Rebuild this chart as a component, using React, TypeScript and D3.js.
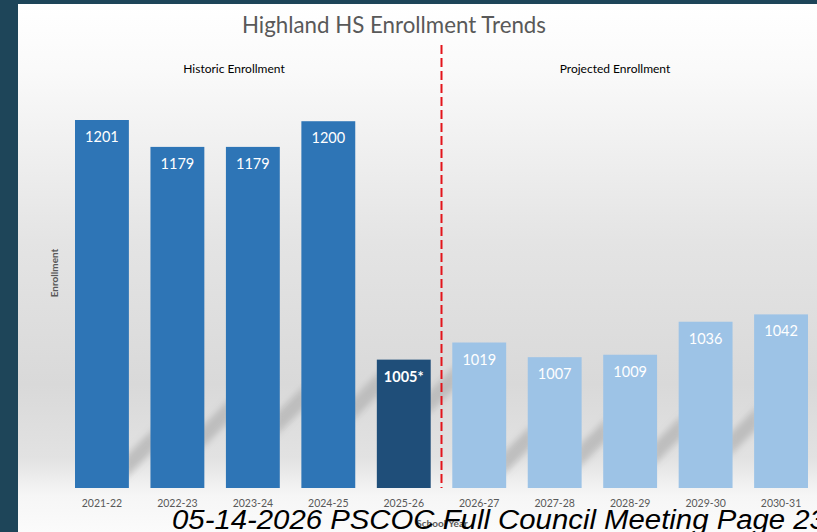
import React from "react";
import * as d3 from "d3";

const categories = ["2021-22","2022-23","2023-24","2024-25","2025-26","2026-27","2027-28","2028-29","2029-30","2030-31"];
const values = [1201, 1179, 1179, 1200, 1005, 1019, 1007, 1009, 1036, 1042];
const valueLabels = ["1201","1179","1179","1200","1005*","1019","1007","1009","1036","1042"];
const kinds = ["hist","hist","hist","hist","current","proj","proj","proj","proj","proj"];
// decorative floor-shadow centre heights to the right of each bar (background effect)
const shadowY = [468, 439, 425, 411, 405, 465, 458, 455, 446];

const W = 817, H = 532;
const colors: Record<string, string> = { hist: "#2E75B6", current: "#1F4E79", proj: "#9DC3E6" };
const FONT = "Lato, 'Open Sans', sans-serif";

export default function App() {
  const x = d3.scaleBand<string>().domain(categories).range([75, 808]).paddingInner(0.286).paddingOuter(0);
  const base = 488;
  const y = d3.scaleLinear().domain([900, 1201]).range([base, 120]);
  const bw = x.bandwidth();
  const divider = ((x("2025-26") as number) + bw + (x("2026-27") as number)) / 2;

  return (
    <svg width={W} height={H} style={{ position: "absolute", left: 0, top: 0, display: "block" }}>
      <defs>
        <linearGradient id="bg" x1="0" y1="0" x2="0" y2="1">
          <stop offset="0" stopColor="#ffffff" />
          <stop offset="0.12" stopColor="#fafafa" />
          <stop offset="0.45" stopColor="#e4e4e4" />
          <stop offset="0.72" stopColor="#d9d9d9" />
          <stop offset="0.86" stopColor="#e2e2e2" />
          <stop offset="0.93" stopColor="#f6f6f6" />
          <stop offset="1" stopColor="#fbfbfb" />
        </linearGradient>
        <filter id="blur" x="-50%" y="-50%" width="200%" height="200%">
          <feGaussianBlur stdDeviation="3" />
        </filter>
      </defs>
      <rect x={0} y={0} width={W} height={H} fill="#1E4559" />
      <rect x={18} y={4} width={W - 18} height={H - 4} fill="url(#bg)" />

      {/* floor shadows */}
      <g filter="url(#blur)" opacity={0.85}>
        {shadowY.map((yc, i) => {
          const xr = (x(categories[i]) as number) + bw - 4;
          const xl = (x(categories[i + 1]) as number) + 4;
          const d = xl - xr;
          return (
            <polygon key={i} fill="#b8b8b8"
              points={`${xr},${yc - 11} ${xl},${yc - 11 - d} ${xl},${yc + 11 - d} ${xr},${yc + 11}`} />
          );
        })}
      </g>

      <text x={394} y={33} textAnchor="middle" fontFamily={FONT} fontSize={22.3} fill="#595959">Highland HS Enrollment Trends</text>
      <text x={234} y={73} textAnchor="middle" fontFamily={FONT} fontSize={12} fill="#000">Historic Enrollment</text>
      <text x={615} y={73} textAnchor="middle" fontFamily={FONT} fontSize={12} fill="#000">Projected Enrollment</text>

      {categories.map((c, i) => {
        const bx = x(c) as number;
        const top = y(values[i]);
        return (
          <g key={c}>
            <rect x={bx} y={top} width={bw} height={base - top} fill={colors[kinds[i]]} />
            <text x={bx + bw / 2} y={top + 22} textAnchor="middle" fontFamily={FONT}
              fontSize={14.5} fontWeight={kinds[i] === "current" ? 700 : 400} fill="#ffffff">{valueLabels[i]}</text>
            <text x={bx + bw / 2} y={507} textAnchor="middle" fontFamily={FONT} fontSize={10.5} fill="#595959">{c}</text>
          </g>
        );
      })}

      <line x1={divider} x2={divider} y1={45} y2={base} stroke="#E3141B" strokeWidth={2} strokeDasharray="9 4" />

      <text transform="translate(58,273) rotate(-90)" textAnchor="middle" fontFamily={FONT} fontSize={10} fontWeight={700} fill="#595959">Enrollment</text>
      <text x={442} y={527} textAnchor="middle" fontFamily={FONT} fontSize={10} fontWeight={700} fill="#595959">School Year</text>

      <text transform="translate(172,529) scale(1.087,1)" x={0} y={0} fontFamily="'Liberation Sans', Arial, sans-serif" fontStyle="italic" fontSize={27} fill="#000">05-14-2026 PSCOC Full Council Meeting Page 23</text>
    </svg>
  );
}
